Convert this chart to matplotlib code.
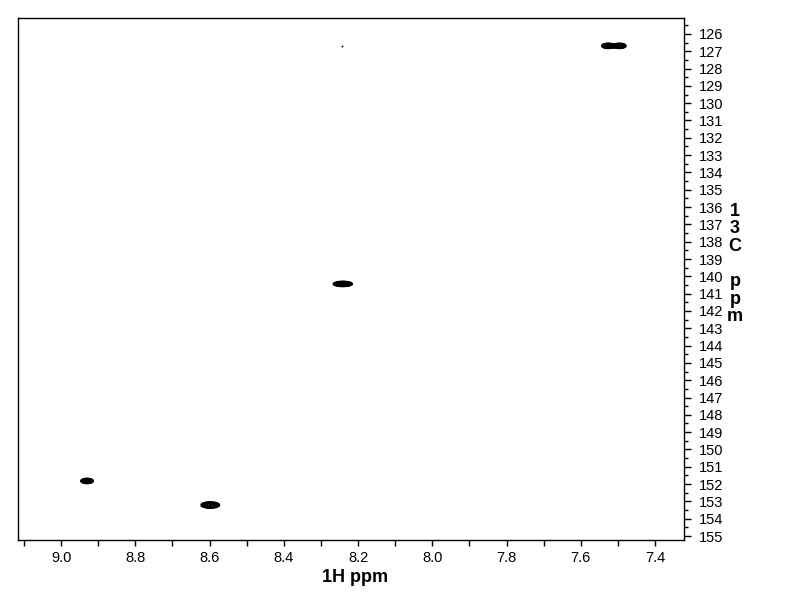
import numpy as np
import matplotlib
matplotlib.use("Agg")
import matplotlib.pyplot as plt
from matplotlib.ticker import MultipleLocator

# cross peaks (1H ppm, 13C ppm, half widths)
h_ppm = [7.526, 7.496, 8.241, 8.930, 8.598]
c_ppm = [126.69, 126.69, 140.44, 151.82, 153.21]
h_hw = [0.018, 0.018, 0.026, 0.017, 0.025]
c_hw = [0.15, 0.15, 0.15, 0.15, 0.18]
amp = [1.0, 1.0, 1.0, 1.0, 1.0]

# one tiny noise point near the top
noise_h = [8.243]
noise_c = [126.70]

xlim = (9.116, 7.322)
ylim = (155.23, 125.08)

plt.rcParams['font.family'] = ['Liberation Sans', 'DejaVu Sans']

fig = plt.figure(figsize=(7.92, 6.12), dpi=100)
ax = fig.add_axes([18 / 792, 72 / 612, 666 / 792, 522 / 612])

x = np.linspace(xlim[1], xlim[0], 1600)
y = np.linspace(ylim[1], ylim[0], 1400)
X, Y = np.meshgrid(x, y)
Z = np.zeros_like(X)
k = np.sqrt(2 * np.log(10))
for h, c, wx, wy, a in zip(h_ppm, c_ppm, h_hw, c_hw, amp):
    sx = wx / k
    sy = wy / k
    Z += a * np.exp(-((X - h) ** 2 / (2 * sx ** 2) + (Y - c) ** 2 / (2 * sy ** 2)))

levels = np.geomspace(0.1, 0.95, 9)
ax.contour(X, Y, Z, levels=levels, colors='black', linewidths=1.0)
ax.plot(noise_h, noise_c, 's', color='black', markersize=1.2, markeredgewidth=0)

ax.set_xlim(xlim)
ax.set_ylim(ylim)

ax.xaxis.set_major_locator(MultipleLocator(0.2))
ax.xaxis.set_minor_locator(MultipleLocator(0.1))
ax.yaxis.set_major_locator(MultipleLocator(1))
ax.yaxis.set_minor_locator(MultipleLocator(0.5))
ax.xaxis.set_major_formatter(plt.FormatStrFormatter('%.1f'))
ax.yaxis.set_major_formatter(plt.FormatStrFormatter('%d'))

ax.yaxis.tick_right()
ax.tick_params(axis='x', which='major', direction='out', length=4, width=1, pad=4, labelsize=10.5)
ax.tick_params(axis='x', which='minor', direction='out', length=4, width=1)
ax.tick_params(axis='y', which='major', direction='out', length=5, width=1, pad=6, labelsize=10.5)
ax.tick_params(axis='y', which='minor', direction='out', length=3, width=1)

for s in ax.spines.values():
    s.set_linewidth(1)

fig.text(355 / 792, 1 - 577 / 612, '1H ppm', ha='center', va='center',
         fontsize=13, fontweight='bold')
fig.text(735 / 792, 1 - 264 / 612, '1\n3\nC\n\np\np\nm', ha='center', va='center',
         fontsize=13, fontweight='bold', linespacing=1.04)

fig.savefig('out.png', dpi=100)
